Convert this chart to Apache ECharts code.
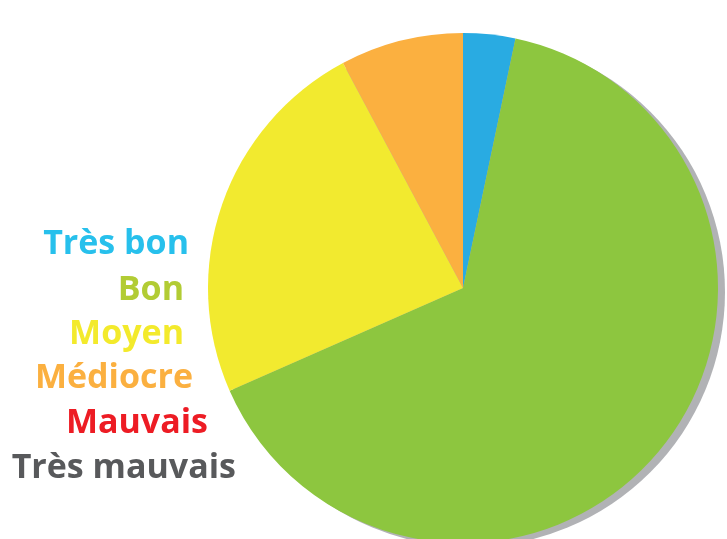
<!DOCTYPE html>
<html><head><meta charset="utf-8">
<script src="https://cdn.jsdelivr.net/npm/echarts@6/dist/echarts.min.js"></script>
<style>html,body{margin:0;padding:0;background:#fff}#c{width:727px;height:539px}</style>
</head><body><div id="c"></div>
<script>
const categories = ['Très bon', 'Bon', 'Moyen', 'Médiocre', 'Mauvais', 'Très mauvais'];
const values = [3.3, 65.1, 23.8, 7.8, 0, 0];
const sliceColors = ['#29abe2', '#8dc63f', '#f2ea2f', '#fbb040', '#ed1c24', '#58595b'];
const textColors = ['#27c0ec', '#b2cc34', '#f3ea2c', '#fbb040', '#ed1c24', '#58595b'];

const labelPos = [[189, 244], [184, 290], [184, 334], [193, 378], [208, 423], [236, 468]];

const chart = echarts.init(document.getElementById('c'), null, {renderer: 'canvas'});
chart.setOption({
  animation: false,
  series: [
    {
      type: 'pie', silent: true, z: 1,
      center: [470, 292], radius: 255, startAngle: 90,
      label: {show: false}, labelLine: {show: false},
      data: [{value: 1, itemStyle: {color: '#b1b2b5'}}]
    },
    {
      type: 'pie', z: 2,
      center: [463, 288], radius: 255, startAngle: 90, clockwise: true,
      label: {show: false}, labelLine: {show: false},
      itemStyle: {borderWidth: 0},
      data: categories.map((c, i) => ({name: c, value: values[i], itemStyle: {color: sliceColors[i]}}))
    }
  ],
  graphic: categories.map((c, i) => ({
    type: 'text', x: labelPos[i][0], y: labelPos[i][1],
    style: {text: c, fill: textColors[i], font: 'bold 34px "Open Sans"', align: 'right', verticalAlign: 'middle'}
  }))
});
</script></body></html>
